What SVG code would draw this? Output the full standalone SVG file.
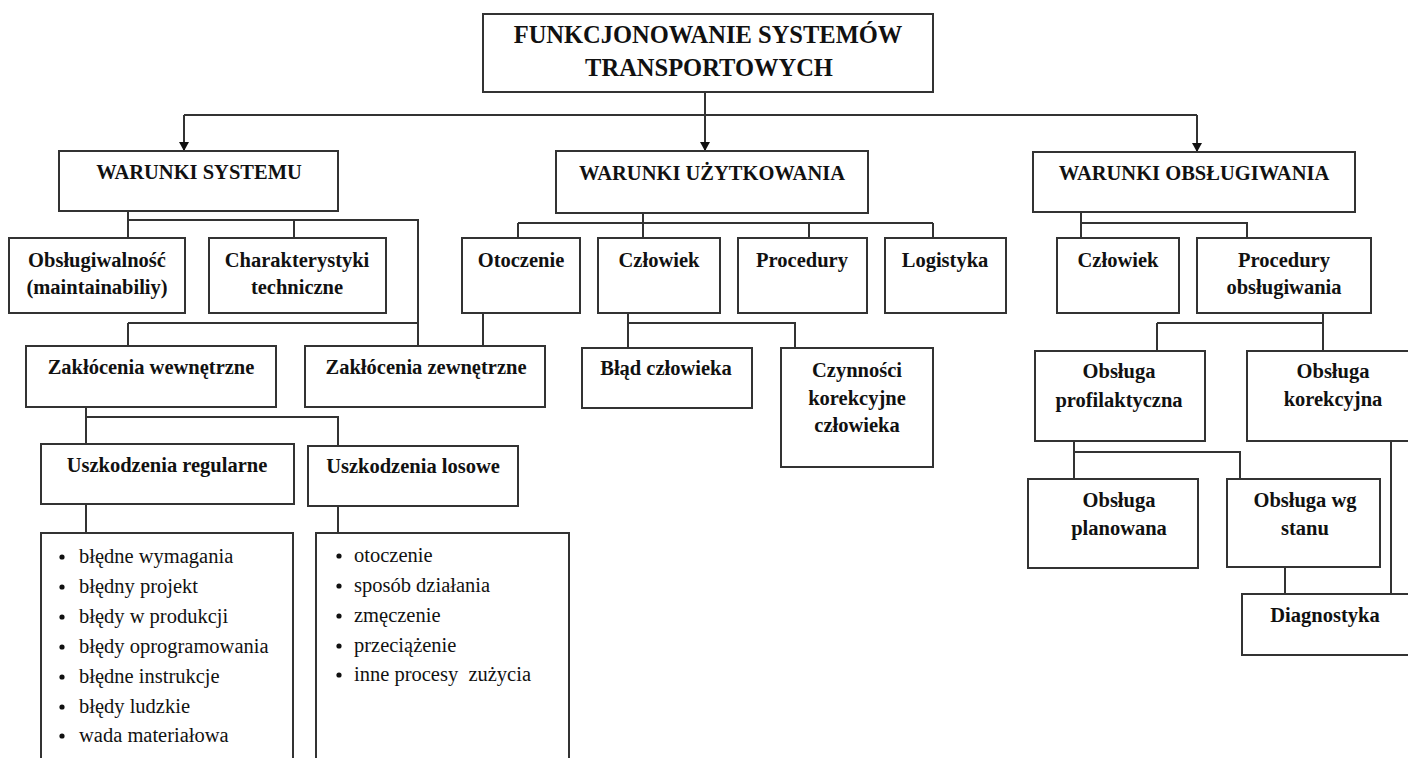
<svg xmlns="http://www.w3.org/2000/svg" width="1408" height="758" viewBox="0 0 1408 758">
<style>
.box{fill:#fff;stroke:#333;stroke-width:2}
.c{fill:none;stroke:#333;stroke-width:2}
text{font-family:"Liberation Serif","Times New Roman",serif;fill:#111}
.h{font-weight:bold;font-size:20.5px;text-anchor:middle}
.t{font-weight:bold;font-size:24.5px;text-anchor:middle}
.l{font-size:20.5px}
.b{fill:#111}
</style>
<defs>
<marker id="arr" markerUnits="userSpaceOnUse" markerWidth="10" markerHeight="10" refX="9" refY="5" orient="auto">
<path d="M0,0 L9,5 L0,10 Z" fill="#111"/>
</marker>
</defs>
<g id="connectors">
<path class="c" d="M705,92 V115 M184,115 H1197"/>
<path class="c" d="M184,115 V151" marker-end="url(#arr)"/>
<path class="c" d="M705,115 V151" marker-end="url(#arr)"/>
<path class="c" d="M1197,115 V152" marker-end="url(#arr)"/>
<path class="c" d="M128,211 V238 M128,220 H418 V346 M294,220 V238 M128,323 H418 M128,323 V346"/>
<path class="c" d="M483,313 V346"/>
<path class="c" d="M643,213 V238 M518,223 H933 M518,223 V238 M809,223 V238 M933,223 V238"/>
<path class="c" d="M628,313 V348 M628,323 H795 V348"/>
<path class="c" d="M1081,212 V238 M1081,223 H1247 V238"/>
<path class="c" d="M1323,313 V351 M1157,323 H1323 M1157,323 V351"/>
<path class="c" d="M86,407 V444 M86,417 H338 V446"/>
<path class="c" d="M86,504 V533 M338,506 V533"/>
<path class="c" d="M1074,441 V479 M1074,452 H1240 V479"/>
<path class="c" d="M1285,567 V594 M1391,441 V594"/>
</g>
<g id="title"><rect class="box" x="483" y="14" width="450" height="78"/>
<text class="t" x="708" y="43">FUNKCJONOWANIE SYSTEMÓW</text><text class="t" x="709" y="76">TRANSPORTOWYCH</text></g>
<g id="warunki-systemu"><rect class="box" x="59" y="151" width="279" height="60"/><text class="h" x="199" y="179">WARUNKI SYSTEMU</text></g>
<g id="warunki-uzytkowania"><rect class="box" x="556" y="151" width="312" height="62"/><text class="h" x="712" y="180">WARUNKI UŻYTKOWANIA</text></g>
<g id="warunki-obslugiwania"><rect class="box" x="1033" y="152" width="322" height="60"/><text class="h" x="1194" y="180">WARUNKI OBSŁUGIWANIA</text></g>
<g id="obslugiwalnosc"><rect class="box" x="9" y="238" width="176" height="75"/><text class="h" x="97" y="267">Obsługiwalność</text><text class="h" x="97" y="294">(maintainabiliy)</text></g>
<g id="charakterystyki"><rect class="box" x="209" y="238" width="177" height="75"/><text class="h" x="297" y="267">Charakterystyki</text><text class="h" x="297" y="294">techniczne</text></g>
<g id="otoczenie"><rect class="box" x="462" y="238" width="118" height="75"/><text class="h" x="521" y="267">Otoczenie</text></g>
<g id="czlowiek"><rect class="box" x="598" y="238" width="122" height="75"/><text class="h" x="659" y="267">Człowiek</text></g>
<g id="procedury"><rect class="box" x="738" y="238" width="129" height="75"/><text class="h" x="802" y="267">Procedury</text></g>
<g id="logistyka"><rect class="box" x="885" y="238" width="121" height="75"/><text class="h" x="945" y="267">Logistyka</text></g>
<g id="czlowiek2"><rect class="box" x="1057" y="238" width="122" height="75"/><text class="h" x="1118" y="267">Człowiek</text></g>
<g id="procedury-obslugiwania"><rect class="box" x="1197" y="238" width="174" height="75"/><text class="h" x="1284" y="267">Procedury</text><text class="h" x="1284" y="294">obsługiwania</text></g>
<g id="zaklocenia-wewnetrzne"><rect class="box" x="26" y="346" width="250" height="61"/><text class="h" x="151" y="374">Zakłócenia wewnętrzne</text></g>
<g id="zaklocenia-zewnetrzne"><rect class="box" x="305" y="346" width="240" height="61"/><text class="h" x="426" y="374">Zakłócenia zewnętrzne</text></g>
<g id="blad-czlowieka"><rect class="box" x="582" y="348" width="170" height="60"/><text class="h" x="666" y="375">Błąd człowieka</text></g>
<g id="czynnosci"><rect class="box" x="781" y="348" width="152" height="119"/><text class="h" x="857" y="377">Czynności</text><text class="h" x="857" y="405">korekcyjne</text><text class="h" x="857" y="432">człowieka</text></g>
<g id="obsluga-profilaktyczna"><rect class="box" x="1035" y="351" width="170" height="90"/><text class="h" x="1119" y="378">Obsługa</text><text class="h" x="1119" y="407">profilaktyczna</text></g>
<g id="obsluga-korekcyjna"><rect class="box" x="1247" y="351" width="170" height="90"/><text class="h" x="1333" y="378">Obsługa</text><text class="h" x="1333" y="406">korekcyjna</text></g>
<g id="uszkodzenia-regularne"><rect class="box" x="41" y="444" width="253" height="60"/><text class="h" x="167" y="472">Uszkodzenia regularne</text></g>
<g id="uszkodzenia-losowe"><rect class="box" x="308" y="446" width="210" height="60"/><text class="h" x="413" y="473">Uszkodzenia losowe</text></g>
<g id="obsluga-planowana"><rect class="box" x="1028" y="479" width="170" height="89"/><text class="h" x="1119" y="507">Obsługa</text><text class="h" x="1119" y="535">planowana</text></g>
<g id="obsluga-wg-stanu"><rect class="box" x="1227" y="479" width="153" height="88"/><text class="h" x="1305" y="507">Obsługa wg</text><text class="h" x="1305" y="535">stanu</text></g>
<g id="diagnostyka"><rect class="box" x="1242" y="594" width="175" height="61"/><text class="h" x="1325" y="622">Diagnostyka</text></g>
<g id="lista-regularne"><rect class="box" x="41" y="533" width="252" height="235"/>
<circle class="b" cx="62" cy="557" r="2.6"/><text class="l" x="79" y="563">błędne wymagania</text>
<circle class="b" cx="62" cy="587" r="2.6"/><text class="l" x="79" y="593">błędny projekt</text>
<circle class="b" cx="62" cy="617" r="2.6"/><text class="l" x="79" y="623">błędy w produkcji</text>
<circle class="b" cx="62" cy="647" r="2.6"/><text class="l" x="79" y="653">błędy oprogramowania</text>
<circle class="b" cx="62" cy="677" r="2.6"/><text class="l" x="79" y="683">błędne instrukcje</text>
<circle class="b" cx="62" cy="707" r="2.6"/><text class="l" x="79" y="713">błędy ludzkie</text>
<circle class="b" cx="62" cy="736" r="2.6"/><text class="l" x="79" y="742">wada materiałowa</text>
</g>
<g id="lista-losowe"><rect class="box" x="316" y="533" width="253" height="235"/>
<circle class="b" cx="339" cy="556" r="2.6"/><text class="l" x="354" y="562">otoczenie</text>
<circle class="b" cx="339" cy="586" r="2.6"/><text class="l" x="354" y="592">sposób działania</text>
<circle class="b" cx="339" cy="616" r="2.6"/><text class="l" x="354" y="622">zmęczenie</text>
<circle class="b" cx="339" cy="646" r="2.6"/><text class="l" x="354" y="652">przeciążenie</text>
<circle class="b" cx="339" cy="675" r="2.6"/><text class="l" x="354" y="681" xml:space="preserve">inne procesy  zużycia</text>
</g>
</svg>
